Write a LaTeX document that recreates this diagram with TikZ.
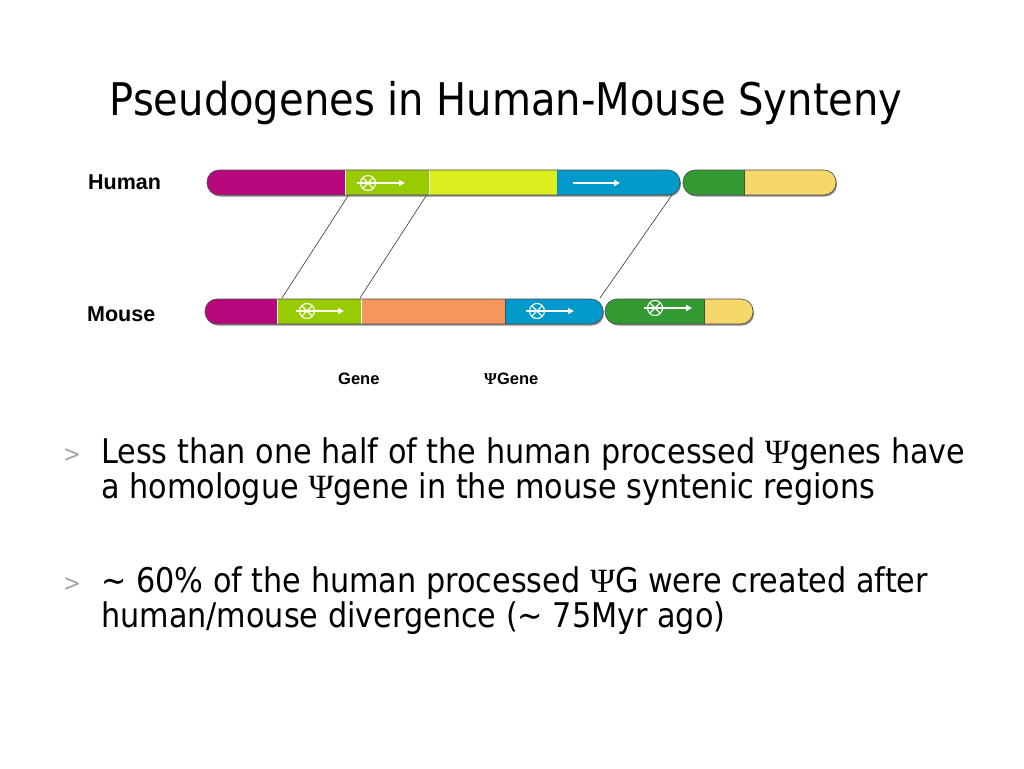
\documentclass[tikz,border=0pt]{standalone}
\usepackage[no-math]{fontspec}
\setmainfont{DejaVu Sans}[FakeStretch=0.89]
\newfontfamily\labelfont{Liberation Sans}
\newfontfamily\psifont{Liberation Serif}
\newcommand{\psig}{{\psifont Ψ}}
\usepackage{tikz}
\usetikzlibrary{arrows.meta,positioning}
\definecolor{segMagenta}{HTML}{B6087C}
\definecolor{segLime}{HTML}{99CC00}
\definecolor{segYellowGreen}{HTML}{DDEE1E}
\definecolor{segBlue}{HTML}{0099CC}
\definecolor{segOrange}{HTML}{F7955E}
\definecolor{segGreen}{HTML}{339933}
\definecolor{segYellow}{HTML}{F5D76A}

\begin{document}
\begin{tikzpicture}[x=1pt, y=-1pt,
    title/.style={font=\fontsize{45}{54}\selectfont, anchor=base},
    lbl/.style={font=\labelfont\bfseries\fontsize{21.5}{24}\selectfont, anchor=base west, inner sep=0pt},
    small/.style={font=\labelfont\bfseries\fontsize{16.5}{20}\selectfont, anchor=base west, inner sep=0pt},
    body/.style={font=\fontsize{34}{35}\selectfont, anchor=base west, align=left, inner sep=0pt},
    bullet/.style={font=\fontsize{24}{24}\selectfont, text=black!35, anchor=base west, inner sep=0pt},
    outline/.style={draw=black!70, line width=0.6pt, rounded corners=12pt},
    shade/.style={fill=black!45, rounded corners=12pt},
    split/.style={draw=white, line width=0.8pt},
    genearrow/.style={draw=white, line width=1.6pt, -{Triangle[length=6pt, width=6pt]}},
    genecirc/.style={draw=white, line width=1.1pt},
    link/.style={draw=black!80, line width=0.6pt}
  ]
  \useasboundingbox (0,0) rectangle (1024,768);
  \fill[white] (0,0) rectangle (1024,768);

  \node[title] (title) at (506,115) {Pseudogenes in Human-Mouse Synteny};

  % human chromosome
  \node[lbl] (human) at (88,189) {Human};
  \fill[shade] (208,171.5) rectangle (681,196.5);
  \begin{scope}
    \clip[rounded corners=12pt] (207,170) rectangle (680,195);
    \fill[segMagenta] (207,170) rectangle (345,195);
    \fill[segLime] (345,170) rectangle (429,195);
    \fill[segYellowGreen] (429,170) rectangle (557,195);
    \fill[segBlue] (557,170) rectangle (680,195);
  \end{scope}
  \draw[split] (345,170) -- (345,195) (429,170) -- (429,195);
  \draw[outline] (207,170) rectangle (680,195);
  \fill[shade] (684,171.5) rectangle (837,196.5);
  \begin{scope}
    \clip[rounded corners=12pt] (683,170) rectangle (836,195);
    \fill[segGreen] (683,170) rectangle (744,195);
    \fill[segYellow] (744,170) rectangle (836,195);
  \end{scope}
  \draw[black!70, line width=0.6pt] (744,170) -- (744,195);
  \draw[outline] (683,170) rectangle (836,195);

  % mouse chromosome
  \node[lbl] (mouse) at (87,321) {Mouse};
  \fill[shade] (206,300.5) rectangle (604,325.5);
  \begin{scope}
    \clip[rounded corners=12pt] (205,299) rectangle (603,324);
    \fill[segMagenta] (205,299) rectangle (277,324);
    \fill[segLime] (277,299) rectangle (361,324);
    \fill[segOrange] (361,299) rectangle (505,324);
    \fill[segBlue] (505,299) rectangle (603,324);
  \end{scope}
  \draw[split] (277,299) -- (277,324) (361,299) -- (361,324);
  \draw[black!70, line width=0.6pt] (505,299) -- (505,324);
  \draw[outline] (205,299) rectangle (603,324);
  \fill[shade] (606,300.5) rectangle (754,325.5);
  \begin{scope}
    \clip[rounded corners=12pt] (605,299) rectangle (753,324);
    \fill[segGreen] (605,299) rectangle (704,324);
    \fill[segYellow] (704,299) rectangle (753,324);
  \end{scope}
  \draw[black!70, line width=0.6pt] (704,299) -- (704,324);
  \draw[outline] (605,299) rectangle (753,324);

  % gene marks
  \foreach \cx/\cy in {368/183, 307/311, 537/311, 655/308} {
    \draw[genecirc] (\cx,\cy) circle (7.5);
    \draw[genecirc] (\cx-5,\cy-5) -- (\cx+5,\cy+5) (\cx-5,\cy+5) -- (\cx+5,\cy-5);
    \draw[genearrow] (\cx-11,\cy) -- (\cx+37,\cy);
  }
  \draw[genearrow] (573,183) -- (620,183);

  % homology links
  \coordinate (hGeneA) at (348,196);
  \coordinate (hGeneB) at (426,196);
  \coordinate (hPsi) at (672,195);
  \coordinate (mGeneA) at (282,298);
  \coordinate (mGeneB) at (360,298);
  \coordinate (mPsi) at (600,298);
  \draw[link] (hGeneA) -- (mGeneA);
  \draw[link] (hGeneB) -- (mGeneB);
  \draw[link] (hPsi) -- (mPsi);

  \node[small] (gene) at (338,384) {Gene};
  \node[small] (psigene) at (484,384) {{\psifont\bfseries Ψ}Gene};

  % bullets
  \node[bullet] (b1) at (63,462) {>};
  \node[body] (t1) at (101,498) {Less than one half of the human processed \psig genes have\\a homologue \psig gene in the mouse syntenic regions};
  \node[bullet] (b2) at (63,591) {>};
  \node[body] (t2) at (101,627) {\textasciitilde{} 60\% of the human processed \psig G were created after\\human/mouse divergence (\textasciitilde{} 75Myr ago)};
\end{tikzpicture}
\end{document}
